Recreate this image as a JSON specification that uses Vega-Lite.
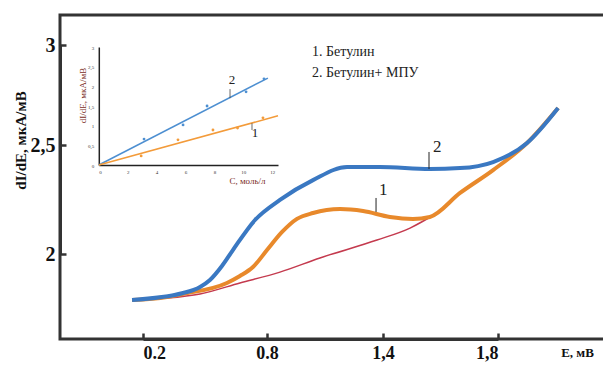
{
  "$schema": "https://vega.github.io/schema/vega-lite/v6.json",
  "width": 545,
  "height": 324,
  "autosize": {"type": "none"},
  "padding": {"left": 60, "top": 15, "right": 0, "bottom": 28},
  "background": "white",
  "config": {
    "view": {"stroke": "#333", "strokeWidth": 3},
    "font": "'Liberation Serif', 'Times New Roman', Times, serif",
    "axis": {"grid": false}
  },
  "datasets": {
    "base": [
      {"E": 0.147, "V": 1.789}, {"E": 0.316, "V": 1.798}, {"E": 0.476, "V": 1.817},
      {"E": 0.669, "V": 1.867}, {"E": 0.867, "V": 1.917}, {"E": 1.074, "V": 1.982},
      {"E": 1.369, "V": 2.064}, {"E": 1.494, "V": 2.119}, {"E": 1.588, "V": 2.188}
    ],
    "s1": [
      {"E": 0.147, "V": 1.789}, {"E": 0.316, "V": 1.803}, {"E": 0.394, "V": 1.817},
      {"E": 0.606, "V": 1.867}, {"E": 0.669, "V": 1.899}, {"E": 0.732, "V": 1.94}, {"E": 0.8, "V": 2.018},
      {"E": 0.878, "V": 2.101}, {"E": 0.955, "V": 2.161}, {"E": 1.038, "V": 2.188},
      {"E": 1.178, "V": 2.206}, {"E": 1.297, "V": 2.197}, {"E": 1.424, "V": 2.17},
      {"E": 1.504, "V": 2.161}, {"E": 1.563, "V": 2.17}, {"E": 1.668, "V": 2.28},
      {"E": 1.783, "V": 2.385}, {"E": 1.901, "V": 2.51}, {"E": 2.009, "V": 2.685}
    ],
    "s2": [
      {"E": 0.147, "V": 1.789}, {"E": 0.394, "V": 1.821}, {"E": 0.476, "V": 1.849},
      {"E": 0.524, "V": 1.881}, {"E": 0.582, "V": 1.945},
      {"E": 0.635, "V": 2.018}, {"E": 0.742, "V": 2.156}, {"E": 0.867, "V": 2.248},
      {"E": 1.038, "V": 2.339}, {"E": 1.214, "V": 2.399}, {"E": 1.384, "V": 2.399},
      {"E": 1.563, "V": 2.39}, {"E": 1.668, "V": 2.394}, {"E": 1.783, "V": 2.422},
      {"E": 1.901, "V": 2.51}, {"E": 2.009, "V": 2.685}
    ],
    "mainLabels": [
      {"E": 1.574, "V": 2.491, "t": "2"},
      {"E": 1.379, "V": 2.294, "t": "1"}
    ],
    "mainLeaders": [
      {"E": 1.56, "V": 2.468, "V2": 2.39},
      {"E": 1.364, "V": 2.257, "V2": 2.193}
    ],
    "legendText": [
      {"E": 1.033, "V": 2.965, "t": "1. Бетулин"},
      {"E": 1.033, "V": 2.86, "t": "2. Бетулин+ МПУ"}
    ],
    "insetPts": [
      {"C": 3.13, "I": 0.66, "s": "2"}, {"C": 5.83, "I": 1.02, "s": "2"},
      {"C": 7.49, "I": 1.5, "s": "2"}, {"C": 10.19, "I": 1.86, "s": "2"},
      {"C": 11.43, "I": 2.19, "s": "2"},
      {"C": 2.93, "I": 0.23, "s": "1"}, {"C": 5.48, "I": 0.64, "s": "1"},
      {"C": 7.9, "I": 0.89, "s": "1"}, {"C": 9.6, "I": 0.94, "s": "1"},
      {"C": 11.36, "I": 1.2, "s": "1"}
    ],
    "insetLines": [
      {"C": 0, "I": 0, "s": "2"}, {"C": 11.7, "I": 2.21, "s": "2"},
      {"C": 0, "I": 0, "s": "1"}, {"C": 12.4, "I": 1.25, "s": "1"}
    ],
    "insetLabels": [
      {"C": 9.22, "I": 2.16, "t": "2"},
      {"C": 10.8, "I": 0.81, "t": "1"}
    ],
    "insetLeaders": [
      {"C": 9.08, "I": 1.93, "I2": 1.7},
      {"C": 10.6, "I": 1.06, "I2": 0.89}
    ]
  },
  "layer": [
    {
      "layer": [
        {
          "data": {"name": "base"},
          "mark": {"type": "line", "color": "#c43a4e", "strokeWidth": 1.5, "interpolate": "monotone"},
          "encoding": {
            "x": {
              "field": "E", "type": "quantitative",
              "scale": {"domain": [0.2, 0.8, 1.4, 1.8], "range": [83, 207, 323, 438], "nice": false, "zero": false},
              "axis": {
                "values": [0.2, 0.8, 1.4, 1.8],
                "labelExpr": "datum.value < 1 ? format(datum.value, '.1f') : replace(format(datum.value, '.1f'), '.', ',')",
                "domainColor": "#333", "domainWidth": 3,
                "tickColor": "#333", "tickWidth": 2.5, "tickSize": -6,
                "labelFont": "'Liberation Serif', 'Times New Roman', Times, serif", "labelFontWeight": "bold", "labelFontSize": 18,
                "labelColor": "#111", "labelPadding": 11,
                "title": "E, мВ", "titleX": 517, "titleY": 13,
                "titleAlign": "center", "titleBaseline": "middle",
                "titleFont": "'Liberation Serif', 'Times New Roman', Times, serif", "titleFontSize": 13, "titleFontWeight": "bold", "titleColor": "#111"
              }
            },
            "y": {
              "field": "V", "type": "quantitative",
              "scale": {"domain": [2, 2.5, 3], "range": [239, 130, 30], "nice": false, "zero": false},
              "axis": {
                "values": [2, 2.5, 3],
                "labelExpr": "replace(format(datum.value, '~g'), '.', ',')",
                "domainColor": "#333", "domainWidth": 3,
                "tickColor": "#333", "tickWidth": 2.5, "tickSize": -6,
                "labelFont": "'Liberation Serif', 'Times New Roman', Times, serif", "labelFontWeight": "bold", "labelFontSize": 20,
                "labelColor": "#111", "labelPadding": 11,
                "title": "dI/dE, мкА/мВ", "titleX": -40, "titleY": 125, "titleAngle": 270,
                "titleAlign": "center", "titleBaseline": "middle",
                "titleFont": "'Liberation Serif', 'Times New Roman', Times, serif", "titleFontSize": 15, "titleFontWeight": "bold", "titleColor": "#111"
              }
            }
          }
        },
        {
          "data": {"name": "s1"},
          "mark": {"type": "line", "color": "#e8892b", "strokeWidth": 4, "interpolate": "monotone"},
          "encoding": {
            "x": {"field": "E", "type": "quantitative"},
            "y": {"field": "V", "type": "quantitative"}
          }
        },
        {
          "data": {"name": "s2"},
          "mark": {"type": "line", "color": "#3a78c2", "strokeWidth": 4, "interpolate": "monotone"},
          "encoding": {
            "x": {"field": "E", "type": "quantitative"},
            "y": {"field": "V", "type": "quantitative"}
          }
        },
        {
          "data": {"name": "mainLeaders"},
          "mark": {"type": "rule", "color": "#222", "strokeWidth": 1},
          "encoding": {
            "x": {"field": "E", "type": "quantitative"},
            "y": {"field": "V", "type": "quantitative"},
            "y2": {"field": "V2"}
          }
        },
        {
          "data": {"name": "mainLabels"},
          "mark": {"type": "text", "font": "'Liberation Serif', 'Times New Roman', Times, serif", "fontSize": 17, "color": "#222", "align": "left", "baseline": "middle"},
          "encoding": {
            "x": {"field": "E", "type": "quantitative"},
            "y": {"field": "V", "type": "quantitative"},
            "text": {"field": "t"}
          }
        },
        {
          "data": {"name": "legendText"},
          "mark": {"type": "text", "font": "'Liberation Serif', 'Times New Roman', Times, serif", "fontSize": 14, "color": "#222", "align": "left", "baseline": "middle"},
          "encoding": {
            "x": {"field": "E", "type": "quantitative"},
            "y": {"field": "V", "type": "quantitative"},
            "text": {"field": "t"}
          }
        }
      ]
    },
    {
      "layer": [
        {
          "data": {"name": "insetLines"},
          "mark": {"type": "line", "strokeWidth": 1.5},
          "encoding": {
            "x": {
              "field": "C", "type": "quantitative",
              "scale": {"domain": [0, 12.4], "range": [38.8, 218], "nice": false, "zero": false},
              "axis": {
                "orient": "bottom", "offset": -174,
                "values": [0, 2, 4, 6, 8, 10, 12],
                "ticks": false, "domainColor": "#222", "domainWidth": 1.5,
                "labelFont": "'Liberation Serif', 'Times New Roman', Times, serif", "labelFontSize": 5, "labelColor": "#333", "labelPadding": 4,
                "title": "C, моль/л", "titleX": 187, "titleY": 15,
                "titleAlign": "center", "titleBaseline": "middle",
                "titleFont": "'Liberation Serif', 'Times New Roman', Times, serif", "titleFontSize": 9, "titleFontWeight": "normal", "titleColor": "#7b2d26"
              }
            },
            "y": {
              "field": "I", "type": "quantitative",
              "scale": {"domain": [0, 3], "range": [150, 32], "nice": false, "zero": false},
              "axis": {
                "orient": "left", "offset": -38.8,
                "values": [0, 0.5, 1, 1.5, 2, 2.5, 3],
                "labelExpr": "replace(format(datum.value, '~g'), '.', ',')",
                "ticks": false, "domainColor": "#222", "domainWidth": 1.5,
                "labelFont": "'Liberation Serif', 'Times New Roman', Times, serif", "labelFontSize": 5, "labelColor": "#333", "labelPadding": 5,
                "title": "dI/dE, мкА/мВ", "titleX": -16, "titleY": 80, "titleAngle": 270,
                "titleAlign": "center", "titleBaseline": "middle",
                "titleFont": "'Liberation Serif', 'Times New Roman', Times, serif", "titleFontSize": 9, "titleFontWeight": "normal", "titleColor": "#7b2d26"
              }
            },
            "color": {"field": "s", "type": "nominal", "scale": {"domain": ["1", "2"], "range": ["#f39b3a", "#4d8fd1"]}, "legend": null}
          }
        },
        {
          "data": {"name": "insetPts"},
          "mark": {"type": "point", "filled": true, "size": 8, "opacity": 1},
          "encoding": {
            "x": {"field": "C", "type": "quantitative"},
            "y": {"field": "I", "type": "quantitative"},
            "color": {"field": "s", "type": "nominal", "legend": null}
          }
        },
        {
          "data": {"name": "insetLeaders"},
          "mark": {"type": "rule", "color": "#444", "strokeWidth": 0.8},
          "encoding": {
            "x": {"field": "C", "type": "quantitative"},
            "y": {"field": "I", "type": "quantitative"},
            "y2": {"field": "I2"}
          }
        },
        {
          "data": {"name": "insetLabels"},
          "mark": {"type": "text", "font": "'Liberation Serif', 'Times New Roman', Times, serif", "fontSize": 13, "color": "#222", "align": "center", "baseline": "middle"},
          "encoding": {
            "x": {"field": "C", "type": "quantitative"},
            "y": {"field": "I", "type": "quantitative"},
            "text": {"field": "t"}
          }
        }
      ]
    }
  ],
  "resolve": {
    "scale": {"x": "independent", "y": "independent", "color": "independent"},
    "axis": {"x": "independent", "y": "independent"}
  }
}
